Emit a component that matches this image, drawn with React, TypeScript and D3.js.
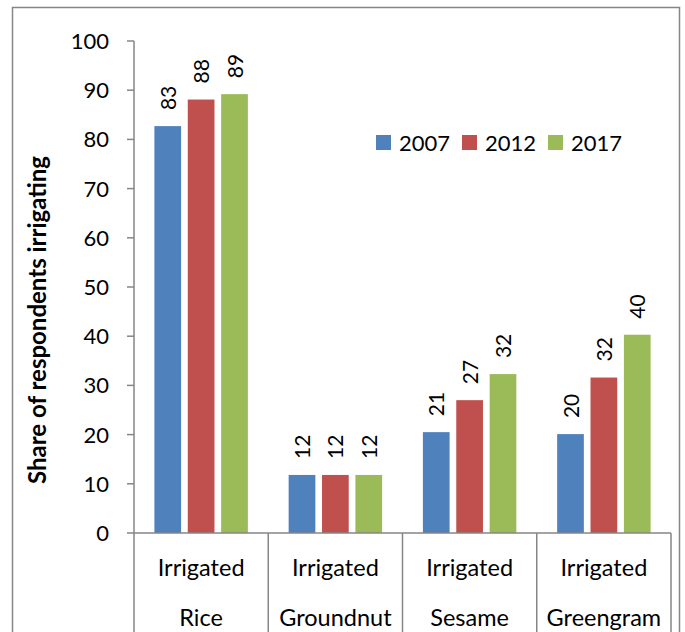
import React, { useEffect, useRef } from 'react';
import * as d3 from 'd3';

const categories = ['Rice', 'Groundnut', 'Sesame', 'Greengram'];
const years = ['2007', '2012', '2017'];
const colors = ['#4f81bd', '#c0504d', '#9bbb59'];
const values2007 = [82.7, 11.8, 20.5, 20.1];
const values2012 = [88.1, 11.8, 27.0, 31.6];
const values2017 = [89.2, 11.8, 32.3, 40.3];
const yTicks = [0, 10, 20, 30, 40, 50, 60, 70, 80, 90, 100];

const FONT = 'Lato, "Open Sans", sans-serif';

const App: React.FC = () => {
  const svgRef = useRef<SVGSVGElement>(null);

  useEffect(() => {
    if (!svgRef.current) return;
    const width = 685;
    const height = 632;
    const svg = d3.select(svgRef.current).attr('width', width).attr('height', height).html('');

    // outer chart border
    svg.append('rect')
      .attr('x', 12.5).attr('y', 7.5)
      .attr('width', 667).attr('height', 640)
      .attr('fill', 'white').attr('stroke', '#868686').attr('stroke-width', 1.5);

    const x0 = d3.scaleBand().domain(categories).range([134, 671]).paddingInner(0).paddingOuter(0);
    const x1 = d3.scaleBand().domain(years).range([20.4, x0.bandwidth() - 20.4]).paddingInner(0.2);
    const y = d3.scaleLinear().domain([0, 100]).range([533, 41]);

    const series = [values2007, values2012, values2017];

    // bars
    categories.forEach((cat, ci) => {
      const g = svg.append('g').attr('transform', `translate(${x0(cat)},0)`);
      years.forEach((yr, si) => {
        const v = series[si][ci];
        g.append('rect')
          .attr('x', x1(yr)!)
          .attr('y', y(v))
          .attr('width', x1.bandwidth())
          .attr('height', y(0) - y(v))
          .attr('fill', colors[si]);
        const cx = x1(yr)! + x1.bandwidth() / 2;
        g.append('text')
          .attr('transform', `translate(${cx + 8},${y(v) - 16}) rotate(-90)`)
          .attr('font-family', FONT)
          .attr('font-size', 21)
          .attr('fill', '#000')
          .text(Math.round(v));
      });
    });

    // y axis
    const axisColor = '#868686';
    svg.append('line')
      .attr('x1', 134).attr('x2', 134).attr('y1', y(100)).attr('y2', y(0))
      .attr('stroke', axisColor).attr('stroke-width', 1.5);
    yTicks.forEach((t) => {
      svg.append('line')
        .attr('x1', 127).attr('x2', 134).attr('y1', y(t)).attr('y2', y(t))
        .attr('stroke', axisColor).attr('stroke-width', 1.5);
      svg.append('text')
        .attr('x', 109).attr('y', y(t)).attr('dy', '0.36em')
        .attr('text-anchor', 'end')
        .attr('font-family', FONT).attr('font-size', 22).attr('fill', '#000')
        .text(t);
    });

    // x axis
    svg.append('line')
      .attr('x1', 134).attr('x2', 671).attr('y1', y(0)).attr('y2', y(0))
      .attr('stroke', axisColor).attr('stroke-width', 1.5);
    const bounds = [...categories.map((c) => x0(c)!), 671];
    bounds.forEach((b) => {
      svg.append('line')
        .attr('x1', b).attr('x2', b).attr('y1', y(0)).attr('y2', height)
        .attr('stroke', axisColor).attr('stroke-width', 1.5);
    });
    categories.forEach((cat) => {
      const cx = x0(cat)! + x0.bandwidth() / 2;
      svg.append('text')
        .attr('x', cx).attr('y', 576).attr('text-anchor', 'middle')
        .attr('font-family', FONT).attr('font-size', 23.5).attr('fill', '#000')
        .text('Irrigated');
      svg.append('text')
        .attr('x', cx).attr('y', 626).attr('text-anchor', 'middle')
        .attr('font-family', FONT).attr('font-size', 23.5).attr('fill', '#000')
        .text(cat);
    });

    // y axis title
    svg.append('text')
      .attr('transform', `translate(46,320) rotate(-90)`)
      .attr('text-anchor', 'middle')
      .attr('font-family', FONT).attr('font-size', 24).attr('font-weight', 'bold').attr('fill', '#000')
      .text('Share of respondents irrigating');

    // legend
    const legendX = [376, 462, 548];
    years.forEach((yr, i) => {
      svg.append('rect')
        .attr('x', legendX[i]).attr('y', 135).attr('width', 15).attr('height', 15)
        .attr('fill', colors[i]);
      svg.append('text')
        .attr('x', legendX[i] + 23).attr('y', 151)
        .attr('font-family', FONT).attr('font-size', 22).attr('fill', '#000')
        .text(yr);
    });
  }, []);

  return <svg ref={svgRef} style={{ position: 'absolute', left: 0, top: 0 }}></svg>;
};

export default App;
